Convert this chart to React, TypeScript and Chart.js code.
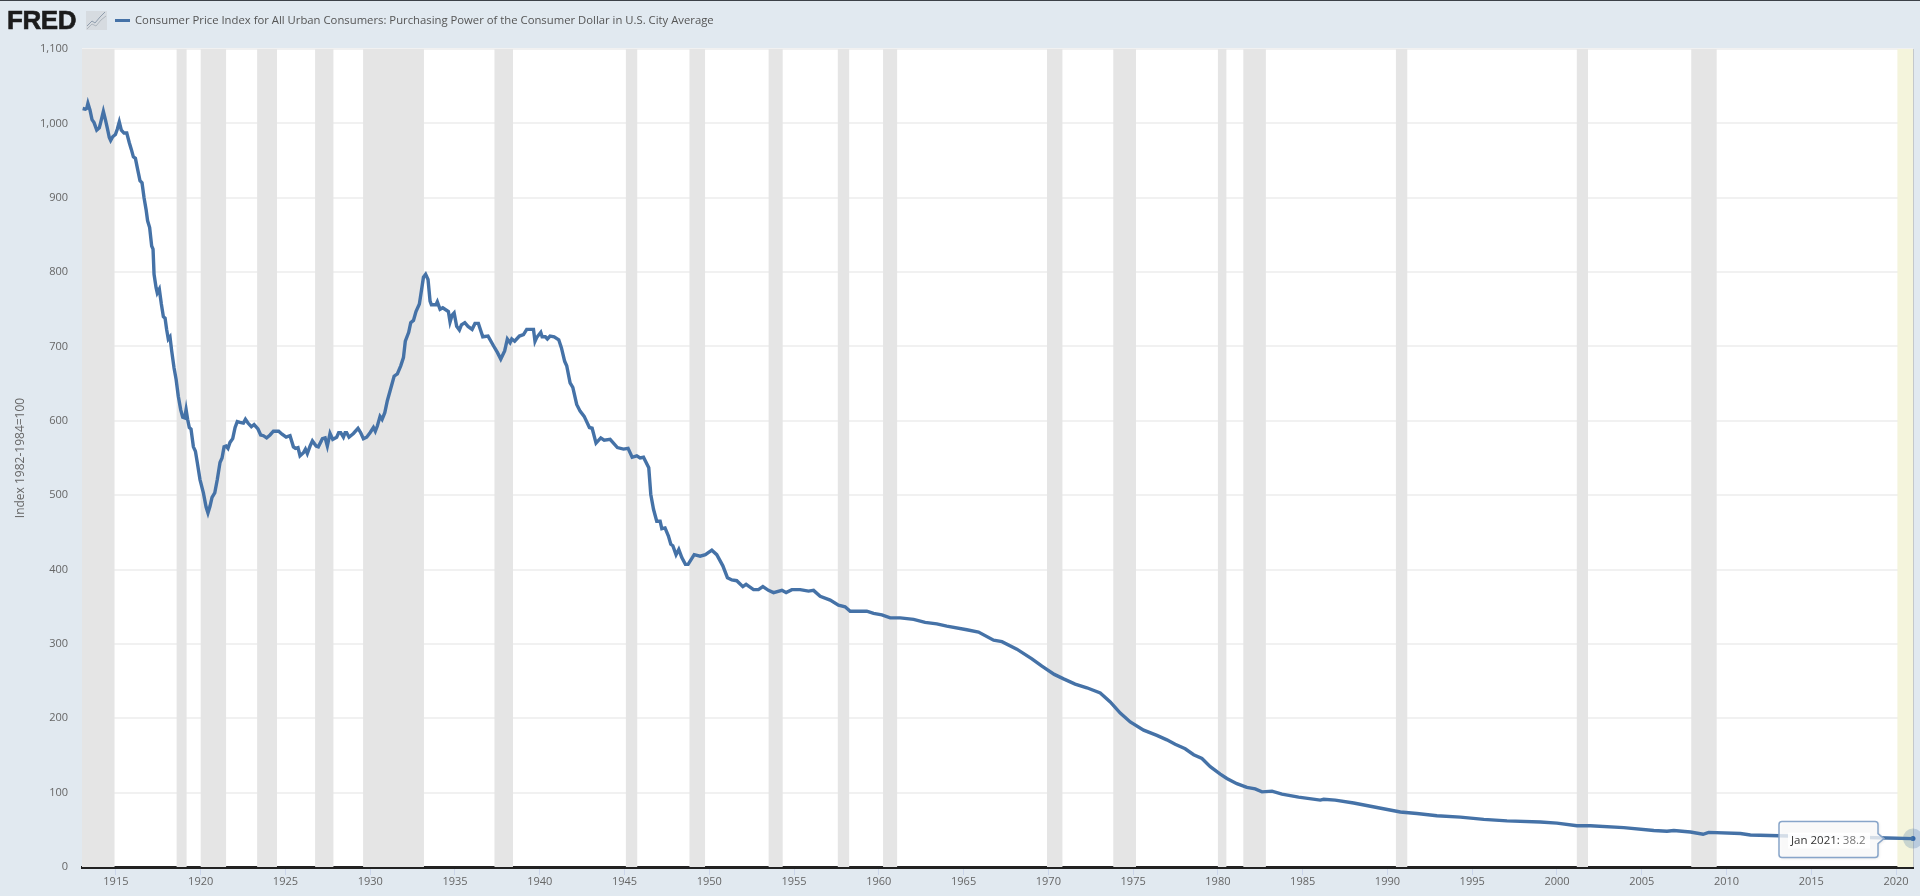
import React, { useEffect, useRef } from "react";
import { Chart, registerables } from "chart.js";

Chart.register(...registerables);

const SERIES_TITLE = "Consumer Price Index for All Urban Consumers: Purchasing Power of the Consumer Dollar in U.S. City Average";
const Y_TITLE = "Index 1982-1984=100";
const LATEST_LABEL = "Jan 2021:";
const LATEST_VALUE = 38.2;
const LATEST_YEAR = 2021;

const years = [
  1913.04,1913.2,1913.28,1913.35,1913.47,1913.59,1913.71,1913.87,1914.02,1914.1,1914.26,1914.38,1914.49,1914.61,1914.69,1914.81,1914.97,
  1915.08,1915.2,1915.32,1915.48,1915.64,1915.79,1915.91,1916.03,1916.15,1916.3,1916.42,1916.54,1916.66,1916.78,1916.87,1916.99,
  1917.11,1917.19,1917.25,1917.37,1917.44,1917.56,1917.68,1917.8,1917.9,1917.99,1918.09,1918.19,1918.29,1918.43,1918.55,1918.68,1918.82,1918.94,
  1919.06,1919.14,1919.23,1919.33,1919.43,1919.57,1919.69,1919.8,1919.96,1920.16,1920.32,1920.43,1920.55,1920.67,1920.83,1920.98,
  1921.14,1921.26,1921.38,1921.5,1921.61,1921.73,1921.89,1922.03,1922.16,1922.32,1922.52,1922.64,1922.79,1922.99,
  1923.15,1923.38,1923.54,1923.7,1923.89,1924.09,1924.29,1924.6,1924.8,1925.04,1925.27,1925.47,1925.59,1925.74,1925.86,
  1926.06,1926.18,1926.29,1926.45,1926.59,1926.81,1926.94,1927.18,1927.34,1927.47,1927.63,1927.79,1928.02,1928.14,1928.26,1928.42,1928.52,1928.61,1928.75,
  1929.01,1929.28,1929.44,1929.6,1929.79,1929.99,
  1930.19,1930.3,1930.42,1930.58,1930.7,1930.86,1931.01,1931.17,1931.41,1931.6,1931.8,1931.96,1932.07,1932.27,1932.39,1932.55,1932.7,1932.9,
  1933.02,1933.14,1933.27,1933.41,1933.53,1933.61,1933.88,1933.96,1934.12,1934.28,1934.61,1934.71,1934.83,1934.95,1935.1,1935.26,1935.38,1935.58,1935.77,
  1936.01,1936.18,1936.38,1936.64,1936.95,1937.27,1937.5,1937.7,1937.93,1938.09,1938.25,1938.35,1938.52,1938.8,1939.04,1939.23,1939.63,1939.72,1939.82,
  1940.06,1940.14,1940.33,1940.45,1940.61,1940.85,1941.12,1941.28,1941.47,1941.59,1941.79,1941.95,1942.18,1942.38,1942.62,1942.93,
  1943.09,1943.32,1943.6,1943.8,1944.15,1944.58,1944.94,1945.21,1945.45,1945.72,1945.92,1946.12,1946.43,1946.55,1946.71,1946.9,1947.1,1947.2,1947.39,1947.59,1947.73,1947.85,
  1948.04,1948.2,1948.38,1948.59,1948.75,1949.11,1949.46,1949.77,1950.15,1950.44,1950.8,1951.07,1951.33,1951.62,1951.98,1952.17,1952.61,1952.9,
  1953.16,1953.49,1953.79,1954.28,1954.53,1954.87,1955.36,1955.85,1956.15,1956.54,1957.13,1957.62,1958.01,1958.31,1959.29,1959.69,1960.18,1960.67,
  1961.26,1962.05,1962.73,1963.42,1964.01,1965.19,1965.88,1966.77,1967.26,1968.14,1969.03,1969.62,1970.35,1970.9,1971.58,1972.27,1973.06,1973.65,1974.24,1974.83,1975.62,1976.4,1976.99,1977.48,1978.07,1978.57,1979.06,1979.55,
  1980.14,1980.53,1981.12,1981.71,1982.2,1982.6,1983.19,1983.78,1984.76,1986.04,1986.24,1986.92,1988.01,1989.38,1990.76,1991.74,1992.92,1994.3,1995.68,1997.05,1999.02,
  2000,2001.18,2001.97,2003.94,2005.71,2006.49,2006.89,2007.87,2008.62,2008.95,2010.82,2011.41,2013.08,2015,2017,2018,2019.5,2021,
];

const values = [
  1020,1019,1020,1027,1018,1005,1001,991,994,1001,1016,1005,994,981,977,982,985,
  992,1002,991,987,987,974,965,955,953,936,923,920,900,884,869,860,
  835,831,797,779,772,777,757,740,738,723,710,713,694,671,656,633,615,605,
  604,615,602,591,589,565,559,544,521,503,484,476,485,497,503,521,
  544,550,565,566,563,571,576,591,599,598,597,602,597,592,
  595,589,581,580,577,581,586,586,582,578,580,565,563,564,553,
  557,562,556,566,573,566,565,576,577,566,583,575,578,584,584,578,584,584,578,
  583,590,584,576,578,584,
  591,586,593,606,602,611,627,640,660,663,674,685,707,719,732,735,747,757,
  775,793,797,790,761,756,756,760,750,752,747,733,742,745,727,722,729,732,727,
  723,731,731,713,714,701,692,683,694,710,705,710,707,714,716,723,723,707,712,
  719,713,713,710,714,713,709,698,680,674,651,645,622,613,606,591,
  590,570,577,574,575,564,562,563,551,553,550,551,537,501,481,465,465,455,456,445,434,432,
  420,427,416,407,407,420,418,420,426,420,405,389,386,385,377,380,373,373,
  377,372,369,372,369,373,373,371,372,364,359,352,350,344,344,341,339,335,
  335,333,329,327,324,319,316,305,303,293,280,270,259,253,246,241,234,222,207,195,184,177,171,165,159,151,146,135,
  125,119,112,107,105,101,102,98,94,90,91,90,86,80,74,72,69,67,64,62,60.5,
  59,55.5,55.5,53,49,48,49,47,44,46.5,45,43,42,41,40.5,39.8,39,38.2,
];

const recessionStarts = [1913,1918.58,1920,1923.33,1926.75,1929.58,1937.33,1945.08,1948.83,1953.5,1957.58,1960.25,1969.92,1973.83,1980,1981.5,1990.5,2001.17,2007.92];
const recessionEnds = [1914.92,1919.17,1921.5,1924.5,1927.83,1933.17,1938.42,1945.75,1949.75,1954.33,1958.25,1961.08,1970.83,1975.17,1980.5,1982.83,1991.17,2001.83,2009.42];
const highlightStart = 2020.08;
const highlightEnd = 2021;
const xTicks = [1915,1920,1925,1930,1935,1940,1945,1950,1955,1960,1965,1970,1975,1980,1985,1990,1995,2000,2005,2010,2015,2020];

const FONT = '"Open Sans", sans-serif';

const backdropPlugin = {
  id: "backdrop",
  beforeDraw(chart: any) {
    const { ctx, chartArea: a } = chart;
    ctx.save();
    ctx.fillStyle = "#ffffff";
    ctx.fillRect(a.left, a.top, a.right - a.left, a.bottom - a.top);
    ctx.restore();
  },
  beforeDatasetsDraw(chart: any) {
    const { ctx, chartArea: a, scales } = chart;
    const x = scales.x;
    ctx.save();
    ctx.fillStyle = "#e5e5e5";
    recessionStarts.forEach((s, i) => {
      const l = x.getPixelForValue(s);
      ctx.fillRect(l, a.top, x.getPixelForValue(recessionEnds[i]) - l, a.bottom - a.top);
    });
    const hl = x.getPixelForValue(highlightStart);
    ctx.fillStyle = "#f4f4dc";
    ctx.fillRect(hl, a.top, x.getPixelForValue(highlightEnd) - hl, a.bottom - a.top);
    ctx.fillStyle = "#c4c8cc";
    ctx.fillRect(a.right, a.top, 1, a.bottom - a.top);
    ctx.restore();
  },
};

const calloutPlugin = {
  id: "callout",
  afterDraw(chart: any) {
    const { ctx, scales } = chart;
    const px = scales.x.getPixelForValue(LATEST_YEAR);
    const py = scales.y.getPixelForValue(LATEST_VALUE);
    const right = px - 35;
    const left = right - 99;
    const top = py - 17;
    const bottom = py + 19;
    const r = 3;
    ctx.save();
    ctx.beginPath();
    ctx.moveTo(left + r, top);
    ctx.lineTo(right - r, top);
    ctx.quadraticCurveTo(right, top, right, top + r);
    ctx.lineTo(right, py - 5);
    ctx.lineTo(right + 6, py);
    ctx.lineTo(right, py + 5);
    ctx.lineTo(right, bottom - r);
    ctx.quadraticCurveTo(right, bottom, right - r, bottom);
    ctx.lineTo(left + r, bottom);
    ctx.quadraticCurveTo(left, bottom, left, bottom - r);
    ctx.lineTo(left, top + r);
    ctx.quadraticCurveTo(left, top, left + r, top);
    ctx.closePath();
    ctx.shadowColor = "rgba(0,0,0,0.15)";
    ctx.shadowBlur = 3;
    ctx.shadowOffsetX = 1;
    ctx.shadowOffsetY = 1;
    ctx.fillStyle = "rgba(255,255,255,0.78)";
    ctx.fill();
    ctx.shadowColor = "transparent";
    ctx.strokeStyle = "#88a5c9";
    ctx.lineWidth = 1.5;
    ctx.stroke();
    ctx.fillStyle = "rgba(255,255,255,0.9)";
    ctx.fillRect(left + 9, py - 6, 82, 16);
    ctx.font = `11.5px ${FONT}`;
    ctx.textBaseline = "middle";
    ctx.textAlign = "left";
    ctx.fillStyle = "#333333";
    ctx.fillText(LATEST_LABEL, left + 12, py + 2);
    const w = ctx.measureText(LATEST_LABEL + " ").width;
    ctx.fillStyle = "#777777";
    ctx.fillText(String(LATEST_VALUE), left + 12 + w, py + 2);
    ctx.restore();
  },
};

export default function App() {
  const ref = useRef<HTMLCanvasElement | null>(null);

  useEffect(() => {
    if (!ref.current) return;
    const chart = new Chart(ref.current, {
      type: "line",
      data: {
        datasets: [
          {
            label: "halo",
            data: [{ x: LATEST_YEAR, y: LATEST_VALUE }],
            pointRadius: 10,
            pointBorderWidth: 0,
            pointBackgroundColor: "rgba(69,114,167,0.25)",
            showLine: false,
            clip: false,
          },
          {
            label: SERIES_TITLE,
            data: years.map((x, i) => ({ x, y: values[i] })),
            borderColor: "#4572a7",
            borderWidth: 3.4,
            pointRadius: 0,
            tension: 0,
            clip: false,
          },
          {
            label: "latest",
            data: [{ x: LATEST_YEAR, y: LATEST_VALUE }],
            pointRadius: 2.5,
            pointBorderWidth: 0,
            pointBackgroundColor: "#2f65a8",
            showLine: false,
            clip: false,
          },
        ],
      } as any,
      options: {
        animation: false,
        responsive: false,
        layout: { autoPadding: false, padding: { top: 49, right: 7, left: 0, bottom: 0 } },
        plugins: { legend: { display: false }, tooltip: { enabled: false }, title: { display: false } },
        scales: {
          x: {
            type: "linear",
            min: 1913,
            max: 2021,
            afterFit(scale: any) {
              scale.height = 29;
              scale.paddingLeft = 0;
              scale.paddingRight = 0;
            },
            afterBuildTicks(scale: any) {
              scale.ticks = xTicks.map((value) => ({ value }));
            },
            grid: { drawOnChartArea: false, drawTicks: true, tickLength: 8, tickColor: "#ccd6eb", tickWidth: 1 },
            border: { display: true, color: "#222222", width: 3 },
            ticks: {
              autoSkip: false,
              maxRotation: 0,
              padding: 0,
              color: "#666666",
              font: { family: FONT, size: 11 },
              callback: (v: any) => String(v),
            },
          },
          y: {
            type: "linear",
            min: 0,
            max: 1100,
            afterFit(scale: any) {
              scale.width = 82;
            },
            grid: { color: "#f1f1f1", lineWidth: 2, drawTicks: false },
            border: { display: false },
            title: {
              display: true,
              text: Y_TITLE,
              color: "#666666",
              font: { family: FONT, size: 12 },
              padding: { top: 13, bottom: 0 },
            },
            ticks: {
              stepSize: 100,
              padding: 14,
              color: "#666666",
              font: { family: FONT, size: 11 },
            },
          },
        },
      },
      plugins: [backdropPlugin, calloutPlugin],
    } as any);
    return () => chart.destroy();
  }, []);

  return (
    <div style={{ position: "fixed", inset: 0, width: 1920, height: 896, background: "#e1e9f0", overflow: "hidden", fontFamily: FONT }}>
      <div style={{ position: "absolute", left: 0, top: 0, width: 1920, height: 1, background: "#3c4148" }} />
      <canvas ref={ref} width={1920} height={896} style={{ position: "absolute", left: 0, top: 0, display: "block" }} />
      <div
        style={{
          position: "absolute",
          left: 7,
          top: 5,
          fontFamily: '"Liberation Sans", sans-serif',
          fontWeight: 700,
          fontSize: 26,
          lineHeight: "30px",
          letterSpacing: -0.4,
          color: "#1c1c1c",
          WebkitTextStroke: "0.6px #1c1c1c",
        }}
      >
        FRED
      </div>
      <svg width="21" height="19" viewBox="0 0 21 19" style={{ position: "absolute", left: 86, top: 11 }}>
        <rect width="21" height="19" fill="#d6dbe0" />
        <polyline points="1,15 6,10 9,12 14,6 19,1" fill="none" stroke="#8f9dad" strokeWidth="1" />
        <polyline points="1,18 6,13 10,15 15,9 20,5" fill="none" stroke="#aeb6be" strokeWidth="1" />
      </svg>
      <div style={{ position: "absolute", left: 115, top: 19, width: 15, height: 2.5, background: "#4572a7" }} />
      <div
        style={{
          position: "absolute",
          left: 135,
          top: 12,
          fontSize: 11.3,
          lineHeight: "16px",
          color: "#555555",
          whiteSpace: "nowrap",
        }}
      >
        {SERIES_TITLE}
      </div>
    </div>
  );
}
